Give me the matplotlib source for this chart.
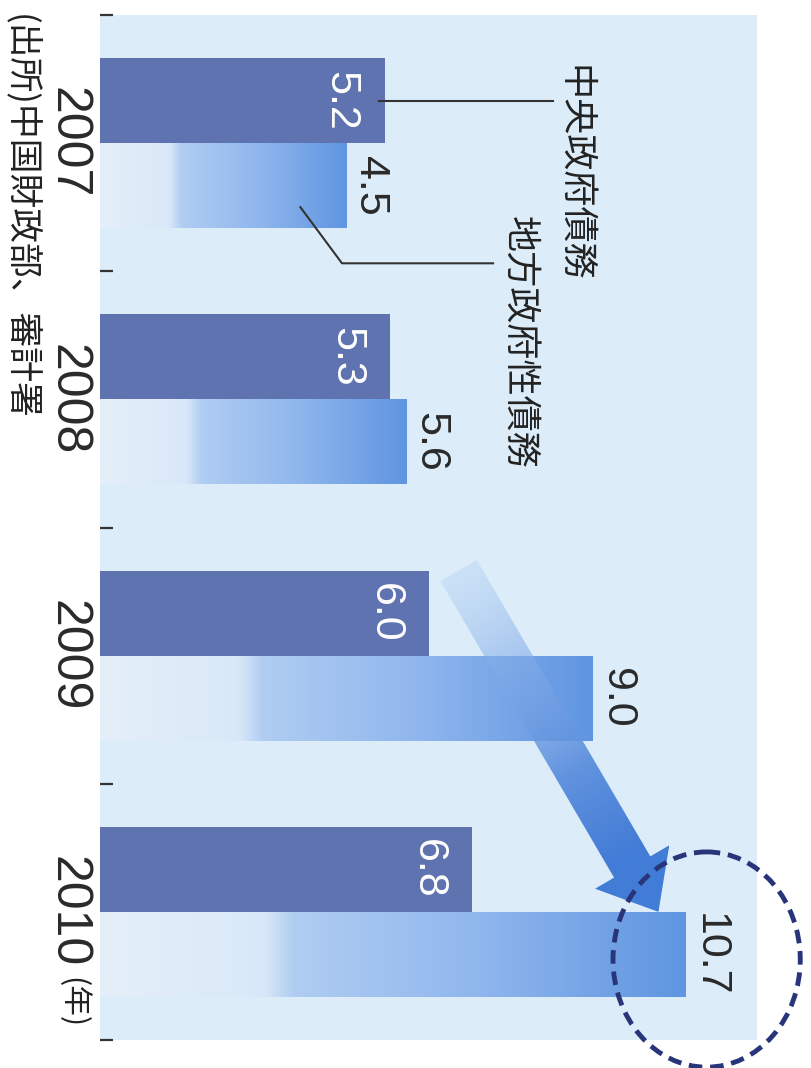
import numpy as np
import matplotlib
matplotlib.use("Agg")
import matplotlib.pyplot as plt
from matplotlib.patches import Polygon, Ellipse
from matplotlib.colors import to_rgb

# ---- data ----
years = ["2007", "2008", "2009", "2010"]
central = [5.2, 5.3, 6.0, 6.8]      # 中央政府債務
local = [4.5, 5.6, 9.0, 10.7]       # 地方政府性債務
series_names = ["中央政府債務", "地方政府性債務"]
source_text = "(出所)中国財政部、審計署"
unit_text = "(年)"

NUM_FONT = ["Liberation Sans", "DejaVu Sans"]
CJK_FONT = ["Noto Sans CJK JP", "DejaVu Sans"]

W, H = 811, 1068
fig = plt.figure(figsize=(W / 100, H / 100), dpi=100)
fig.patch.set_facecolor("white")
ax = fig.add_axes([100 / W, 28 / H, 657 / W, 1025 / H])
ax.set_facecolor("#dcedf9")
for s in ax.spines.values():
    s.set_visible(False)
ax.set_xlim(0, 12)
ax.set_ylim(3.5, -0.5)
ax.set_xticks([])

y = np.arange(len(years))
h = 0.332

# dark bars (central government)
dark_bars = ax.barh(y - h / 2, central, height=h, color="#5f73b0", zorder=2)

# light bars (local government) with gradient fill
light_bars = ax.barh(y + h / 2, local, height=h, color="none", zorder=2)
stops_t = [0.0, 0.28, 0.33, 0.65, 1.0]
stops_c = [to_rgb(c) for c in ["#e4eff9", "#d9e8f8", "#b0cdf2", "#8fb6ed", "#5f95e1"]]
for bar, v in zip(light_bars, local):
    t = np.linspace(0, 1, 300)
    rgb = np.stack([np.interp(t, stops_t, [c[k] for c in stops_c]) for k in range(3)], axis=-1)
    img = rgb[np.newaxis, :, :]
    yb = bar.get_y()
    im = ax.imshow(img, extent=(0, v, yb + h, yb), aspect="auto", zorder=2,
                   interpolation="bilinear")
    im.set_clip_path(bar)

ax.set_xlim(0, 12)
ax.set_ylim(3.5, -0.5)

# value labels
for i, v in enumerate(central):
    ax.annotate(f"{v:.1f}", (v, i - h / 2), xytext=(-44 * 0.72, 0), textcoords="offset points",
                rotation=-90, ha="center", va="center", color="white", fontsize=31,
                family=NUM_FONT, zorder=4)
for i, v in enumerate(local):
    ax.annotate(f"{v:.1f}", (v, i + h / 2), xytext=(24 * 0.72, 0), textcoords="offset points",
                rotation=-90, ha="center", va="center", color="#2a2a2a", fontsize=31,
                family=NUM_FONT, zorder=6)

# big arrow 2009 -> 2010 (gradient)
tail_d = (central[2] + 0.55, 2 - h)
tip_d = (local[3] - 0.5, 3.0)
P0 = ax.transData.transform(tail_d)
P1 = ax.transData.transform(tip_d)
d = P1 - P0
L = np.hypot(*d)
u = d / L
n = np.array([-u[1], u[0]])
sw, hw, hl = 42, 86, 52
verts_px = np.array([
    P0 + n * sw / 2,
    P1 - u * hl + n * sw / 2,
    P1 - u * hl + n * hw / 2,
    P1,
    P1 - u * hl - n * hw / 2,
    P1 - u * hl - n * sw / 2,
    P0 - n * sw / 2,
])
verts_d = ax.transData.inverted().transform(verts_px)
arrow_poly = Polygon(verts_d, closed=True, facecolor="none", edgecolor="none",
                     transform=ax.transData, zorder=3)
ax.add_patch(arrow_poly)
x0, x1 = verts_d[:, 0].min(), verts_d[:, 0].max()
ya, yb2 = verts_d[:, 1].min(), verts_d[:, 1].max()
nx, ny = 200, 300
xs = x0 + (np.arange(nx) + 0.5) * (x1 - x0) / nx
ys = ya + (np.arange(ny) + 0.5) * (yb2 - ya) / ny
XX, YY = np.meshgrid(xs, ys)
pts = ax.transData.transform(np.column_stack([XX.ravel(), YY.ravel()]))
tt = np.clip(((pts - P0) @ u) / L, 0, 1).reshape(ny, nx)
rgba = np.zeros((ny, nx, 4))
c0 = np.array(to_rgb("#a6c6f1"))
c1 = np.array(to_rgb("#3a76d5"))
rgba[..., :3] = c0 + (c1 - c0) * np.clip(tt * 1.2, 0, 1)[..., None]
rgba[..., 3] = 0.3 + 0.65 * np.clip(tt * 1.7, 0, 1)
aim = ax.imshow(rgba, extent=(x0, x1, yb2, ya), origin="upper", aspect="auto",
                zorder=3, interpolation="bilinear")
aim.set_clip_path(arrow_poly)
ax.set_xlim(0, 12)
ax.set_ylim(3.5, -0.5)

# dashed ellipse around the last value
ell = Ellipse((local[3] + 0.38, 3 + h / 2 + 0.02), width=3.42, height=0.84, fill=False,
              edgecolor="#28357a", lw=3.5, linestyle=(0, (2.8, 1.6)), clip_on=False, zorder=7)
ax.add_patch(ell)

# series labels with leader lines
ax.plot([central[0] - 0.1, 8.28], [-h / 2, -h / 2], color="#333333", lw=1.5, zorder=5)
ax.text(8.66, 0.117, series_names[0], rotation=-90, ha="center", va="center",
        fontsize=26, family=CJK_FONT, color="#222222", zorder=6)
ax.plot([3.66, 4.42, 7.18], [0.25, 0.469, 0.469], color="#333333", lw=1.5, zorder=5)
ax.text(7.65, 0.777, series_names[1], rotation=-90, ha="center", va="center",
        fontsize=26, family=CJK_FONT, color="#222222", zorder=6)

# category axis
ax.set_yticks(y, years)
ax.set_yticks(np.arange(-0.5, len(years), 1), minor=True)
ax.tick_params(axis="y", which="major", length=0, pad=7)
ax.tick_params(axis="y", which="minor", length=9, width=1.6, direction="in", color="#333333")
for lab in ax.get_yticklabels():
    lab.set_rotation(-90)
    lab.set_va("center")
    lab.set_ha("right")
    lab.set_fontsize(36)
    lab.set_family(NUM_FONT)
    lab.set_color("#2a2a2a")

fig.text(72 / W, 1 - 1003 / H, unit_text, rotation=-90, ha="center", va="center",
         fontsize=22, family=CJK_FONT, color="#222222")
fig.text(20 / W, 1 - 217 / H, source_text, rotation=-90, ha="center", va="center",
         fontsize=25, family=CJK_FONT, color="#222222")

fig.savefig("out.png", dpi=100)
